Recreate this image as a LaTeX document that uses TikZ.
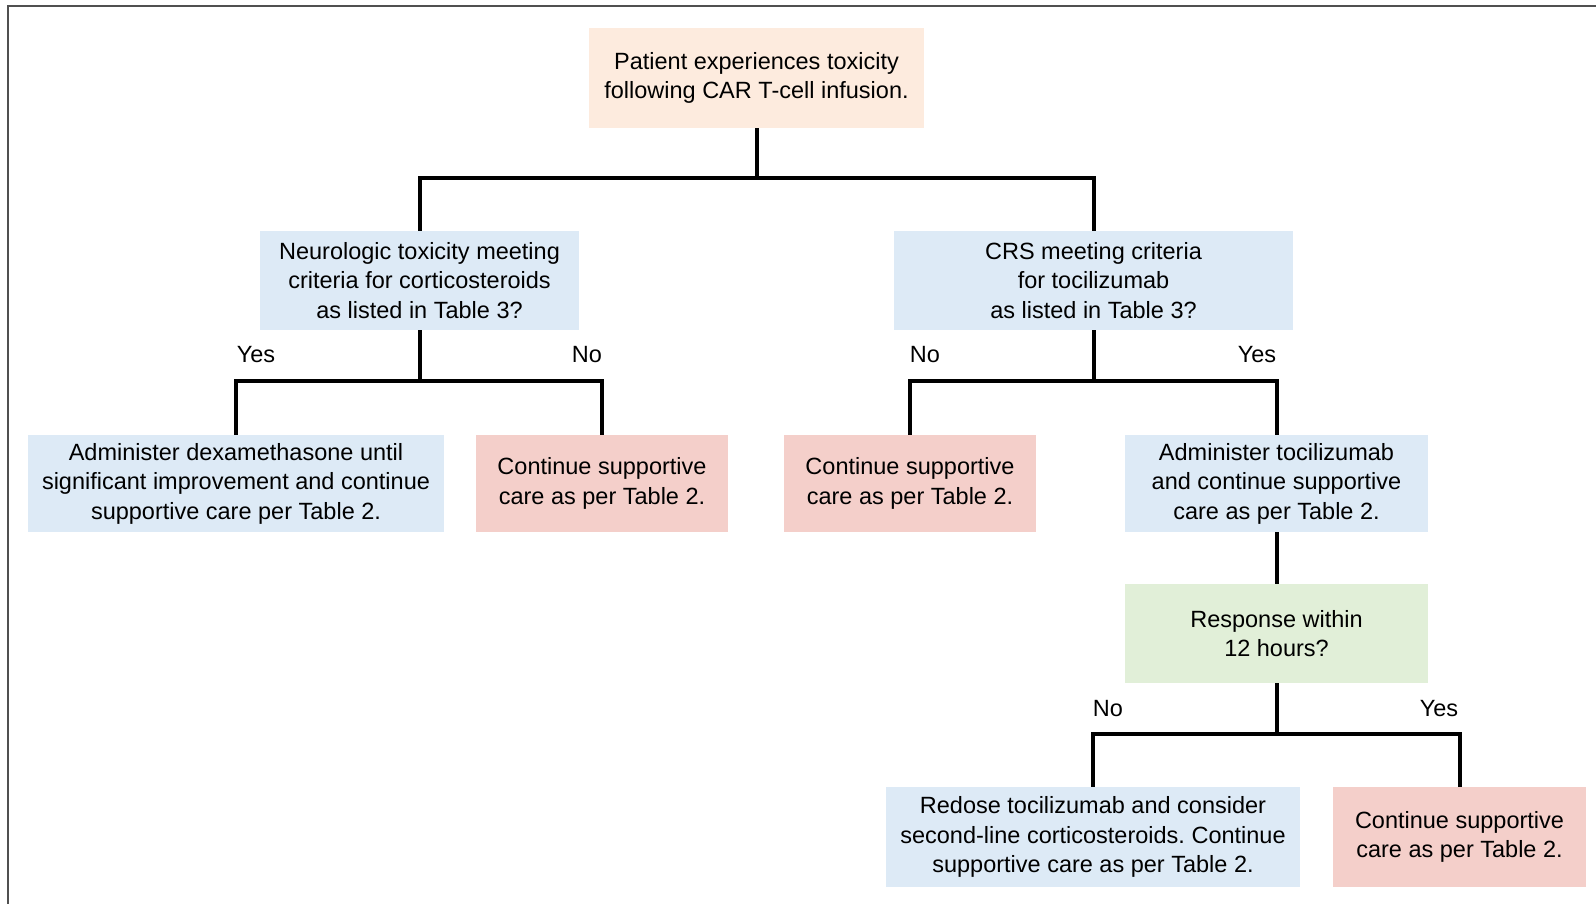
\documentclass[tikz,border=0pt]{standalone}
\usepackage{fontspec}
\setmainfont{Liberation Sans}
\usepackage{xcolor}
\usepackage{tikz}
\usetikzlibrary{positioning,calc}
\frenchspacing
\definecolor{startbg}{RGB}{253,235,222}
\definecolor{askbg}{RGB}{221,234,246}
\definecolor{stopbg}{RGB}{244,207,202}
\definecolor{waitbg}{RGB}{225,239,216}
\definecolor{framegrey}{RGB}{80,80,80}
\tikzset{
  box/.style={fill=askbg,align=center,inner sep=3pt,minimum height=49.5pt,
              font=\fontsize{11.75}{14.75}\selectfont},
  boxs/.style={box,fill=startbg},
  boxr/.style={box,fill=stopbg},
  boxg/.style={box,fill=waitbg},
  conn/.style={line width=2pt,draw=black,line join=miter},
  ans/.style={font=\fontsize{11.75}{14.75}\selectfont,inner sep=1pt},
}
\begin{document}
\begin{tikzpicture}[x=0.5pt,y=-0.5pt]

  \useasboundingbox (0,0) rectangle (1596,904);
  \draw[framegrey,line width=1.4pt] (8,904) -- (8,6) -- (1596,6);

  % --- start ---------------------------------------------------------------
  \node[boxs,minimum width=167.5pt,minimum height=50pt] (pat) at (756.5,78)
        {Patient experiences toxicity\\following CAR T-cell infusion.};

  % --- questions -----------------------------------------------------------
  \node[box,minimum width=159.5pt] (neuro) at (419.5,280.5)
        {Neurologic toxicity meeting\\criteria for corticosteroids\\as listed in Table 3?};
  \node[box,minimum width=199.5pt] (crs) at (1093.5,280.5)
        {CRS meeting criteria\\for tocilizumab\\as listed in Table 3?};

  % --- actions -------------------------------------------------------------
  \node[box,minimum width=208pt,minimum height=48.5pt] (dex) at (236,483.5)
        {Administer dexamethasone until\\significant improvement and continue\\supportive care per Table 2.};
  \node[boxr,minimum width=126pt,minimum height=48.5pt] (supa) at (602,483.5)
        {Continue supportive\\care as per Table 2.};
  \node[boxr,minimum width=126pt,minimum height=48.5pt] (supb) at (910,483.5)
        {Continue supportive\\care as per Table 2.};
  \node[box,minimum width=151.5pt,minimum height=48.5pt] (toci) at (1276.5,483.5)
        {Administer tocilizumab\\and continue supportive\\care as per Table 2.};
  \node[boxg,minimum width=151.5pt] (resp) at (1276.5,633.5)
        {Response within\\12 hours?};
  \node[box,minimum width=207pt,minimum height=50pt] (redose) at (1093,837)
        {Redose tocilizumab and consider\\second-line corticosteroids. Continue\\supportive care as per Table 2.};
  \node[boxr,minimum width=126.5pt,minimum height=50pt] (supc) at (1459.5,837)
        {Continue supportive\\care as per Table 2.};

  % --- junctions -----------------------------------------------------------
  \coordinate (j0) at (756.5,178);
  \coordinate (j1) at (419.5,381);
  \coordinate (j2) at (1093.5,381);
  \coordinate (j3) at (1276.5,734);

  % --- connectors ----------------------------------------------------------
  \draw[conn] (pat.south) -- (j0);
  \draw[conn] (neuro.north) |- (j0) -| (crs.north);
  \draw[conn] (neuro.south) -- (j1);
  \draw[conn] (dex.north) |- (j1) -| (supa.north);
  \draw[conn] (crs.south) -- (j2);
  \draw[conn] (supb.north) |- (j2) -| (toci.north);
  \draw[conn] (toci.south) -- (resp.north);
  \draw[conn] (resp.south) -- (j3);
  \draw[conn] (redose.north) |- (j3) -| (supc.north);

  % --- answers -------------------------------------------------------------
  \node[ans] (ny) at (256,355) {Yes};
  \node[ans] (nn) at (587,355) {No};
  \node[ans] (cn) at (925,355) {No};
  \node[ans] (cy) at (1257,355) {Yes};
  \node[ans] (rn) at (1108,709) {No};
  \node[ans] (ry) at (1439,709) {Yes};

\end{tikzpicture}
\end{document}
